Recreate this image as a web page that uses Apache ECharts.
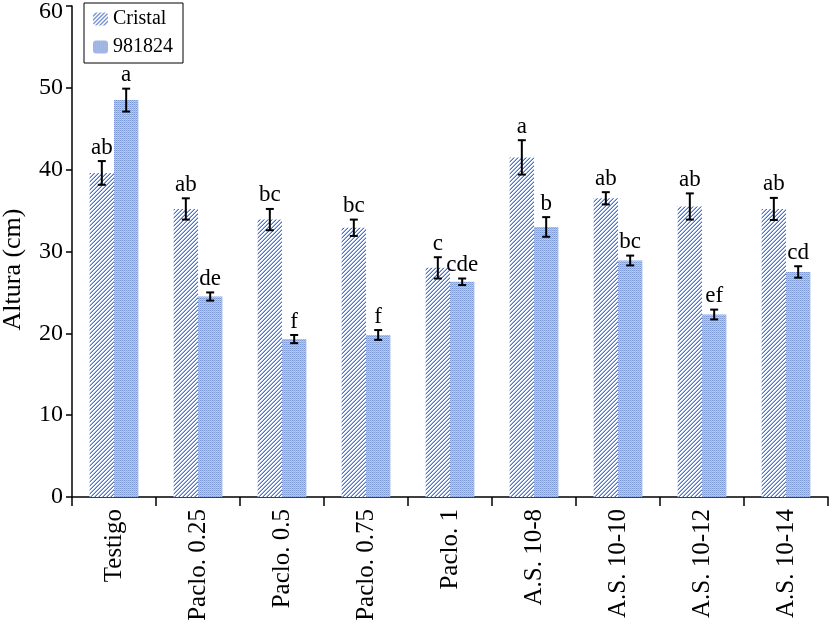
<!DOCTYPE html>
<html><head><meta charset="utf-8">
<script src="https://cdn.jsdelivr.net/npm/echarts@6/dist/echarts.min.js"></script>
<style>html,body{margin:0;padding:0;background:#fff}#c{width:830px;height:625px}</style>
</head><body><div id="c"></div>
<script>
const categories = ['Testigo','Paclo. 0.25','Paclo. 0.5','Paclo. 0.75','Paclo. 1','A.S. 10-8','A.S. 10-10','A.S. 10-12','A.S. 10-14'];
const seriesNames = ['Cristal','981824'];
const cristal = [39.6, 35.2, 33.9, 32.9, 28.0, 41.5, 36.5, 35.5, 35.2];
const cristalErr = [1.45, 1.3, 1.3, 1.0, 1.3, 2.1, 0.75, 1.6, 1.35];
const cristalLetters = ['ab','ab','bc','bc','c','a','ab','ab','ab'];
const l981824 = [48.5, 24.5, 19.3, 19.8, 26.3, 33.0, 28.9, 22.3, 27.5];
const l981824Err = [1.4, 0.5, 0.5, 0.6, 0.4, 1.2, 0.6, 0.6, 0.7];
const l981824Letters = ['a','de','f','f','cde','b','bc','ef','cd'];
const yTicks = [0,10,20,30,40,50,60];

function hatch(){
  const c=document.createElement('canvas');c.width=4;c.height=4;
  const g=c.getContext('2d');
  for(let x=0;x<4;x++)for(let y=0;y<4;y++){
    const k=(x+y)%4;
    g.fillStyle=k===3?'#4f73c2':(k===2?'#a4b9e6':'#ffffff');
    g.fillRect(x,y,1,1);
  }
  return c;
}
function grid(){
  const c=document.createElement('canvas');c.width=4;c.height=4;
  const g=c.getContext('2d');
  for(let x=0;x<4;x++)for(let y=0;y<4;y++){
    let col;
    if(y%2===0) col=(x%2===0)?'#7b98d3':'#a9bde6';
    else col=(x%2===0)?'#c3d1ef':'#9db3e2';
    g.fillStyle=col;g.fillRect(x,y,1,1);
  }
  return c;
}
const pat1={image:hatch(),repeat:'repeat'};
const pat2={image:grid(),repeat:'repeat'};

function errSeries(vals,errs,letters,sign){
  return {
    type:'custom',
    silent:true,
    z:10,
    data:vals.map((v,i)=>[i,v,errs[i]]),
    renderItem:function(params,api){
      const i=api.value(0),v=api.value(1),e=api.value(2),lab=letters[i];
      const bw=api.size([1,0])[0];
      const off=sign*bw*0.145;
      const top=api.coord([i,v+e]);const bot=api.coord([i,v-e]);
      const x=top[0]+off;const cap=4;
      const st={stroke:'#000',lineWidth:2};
      return {type:'group',children:[
        {type:'line',shape:{x1:x,y1:top[1],x2:x,y2:bot[1]},style:st},
        {type:'line',shape:{x1:x-cap,y1:top[1],x2:x+cap,y2:top[1]},style:st},
        {type:'line',shape:{x1:x-cap,y1:bot[1],x2:x+cap,y2:bot[1]},style:st},
        {type:'text',style:{text:lab,x:x,y:top[1]-2,textAlign:'center',textVerticalAlign:'bottom',font:'23px "Liberation Serif"',fill:'#000'}}
      ]};
    }
  };
}

const chart=echarts.init(document.getElementById('c'),null,{renderer:'canvas'});
chart.setOption({
  animation:false,
  backgroundColor:'#fff',
  grid:{left:72,right:2,top:6,bottom:128,containLabel:false,outerBoundsMode:'none'},
  legend:{
    data:seriesNames,orient:'vertical',left:84,top:3,
    borderColor:'#000',borderWidth:1,padding:[6,10,6,9],
    itemWidth:15,itemHeight:13,itemGap:8,
    textStyle:{fontFamily:'Liberation Serif',fontSize:20,color:'#000'}
  },
  xAxis:{
    type:'category',data:categories,
    axisLine:{lineStyle:{color:'#000',width:1.5}},
    axisTick:{show:true,length:9,lineStyle:{color:'#000',width:1.5},alignWithLabel:false},
    axisLabel:{rotate:90,margin:12,color:'#000',fontFamily:'Liberation Serif',fontSize:25,interval:0}
  },
  yAxis:{
    type:'value',min:0,max:60,interval:10,
    name:'Altura (cm)',nameLocation:'middle',nameGap:46,
    nameTextStyle:{fontFamily:'Liberation Serif',fontSize:26,color:'#000',padding:[0,36,0,0]},
    axisLine:{show:true,lineStyle:{color:'#000',width:1.5}},
    axisTick:{show:true,length:6,lineStyle:{color:'#000',width:1.5}},
    axisLabel:{color:'#000',fontFamily:'Liberation Serif',fontSize:24,margin:9,
      formatter:v=>yTicks.includes(v)?(v===60?'{top|'+v+'}':String(v)):'',
      rich:{top:{fontFamily:'Liberation Serif',fontSize:24,color:'#000',padding:[12,0,0,0]}}},
    splitLine:{show:false}
  },
  series:[
    {name:seriesNames[0],type:'bar',data:cristal,barGap:'0%',barCategoryGap:'42%',itemStyle:{color:pat1}},
    {name:seriesNames[1],type:'bar',data:l981824,barGap:'0%',barCategoryGap:'42%',itemStyle:{color:pat2}},
    errSeries(cristal,cristalErr,cristalLetters,-1),
    errSeries(l981824,l981824Err,l981824Letters,1)
  ]
});
</script></body></html>
